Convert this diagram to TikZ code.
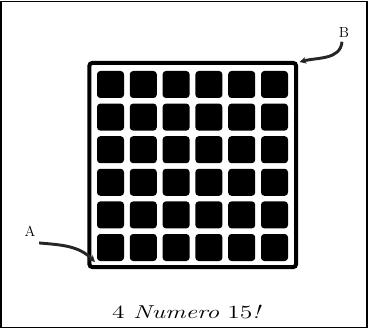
\documentclass[tikz,border=0pt]{standalone}
\usepackage{tikz}
\usetikzlibrary{arrows.meta,positioning}

\begin{document}
\begin{tikzpicture}[x=0.75pt,y=0.75pt, every node/.style={font=\fontsize{11}{13}\selectfont},
  board/.style={draw,line width=3pt,rounded corners=2pt,minimum width=154.9pt,minimum height=153pt,inner sep=0pt},
  cell/.style={fill=black,rounded corners=2.5pt,minimum size=20.25pt,inner sep=0pt},
  pointer/.style={-{Stealth[length=5pt,width=5pt]},line width=2.2pt,black!85}]
\useasboundingbox (0,0) rectangle (368,329);
\draw[line width=1.1pt] (1,1.5) rectangle (367,327.5);
\node[board] (grid) at (192.75,164) {};
\foreach \i in {0,...,5}
  \foreach \j in {0,...,5}
    \node[cell] (c\i\j) at (110.5+32.8*\i,244.5-32.6*\j) {};
\node (A) at (30,98) {A};
\node (B) at (344,297) {B};
\coordinate (tipA) at ([shift={(7.5,7)}]grid.south west);
\coordinate (tipB) at ([shift={(1.5,-1)}]grid.north east);
\draw[pointer] ([shift={(-1,-2)}]A.south east) to[out=-5,in=135] (tipA);
\draw[pointer] ([shift={(-2,0)}]B.south) to[out=-95,in=15] (tipB);
\node[font=\fontsize{14}{16}\selectfont,anchor=base,xscale=1.37,transform shape] (caption) at (187,11) {4 \textit{Numero} 15\textit{!}};
\end{tikzpicture}
\end{document}
